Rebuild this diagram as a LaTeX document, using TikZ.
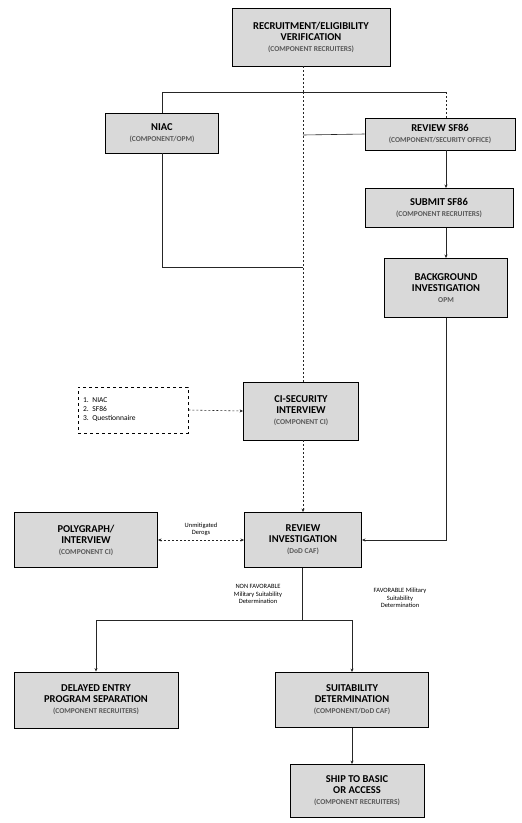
\documentclass[tikz,border=0pt]{standalone}
\usepackage{fontspec}
\setmainfont{Carlito}
\usetikzlibrary{arrows.meta}
\newcommand{\subt}[1]{{\fontsize{7.5}{8.5}\selectfont\color{black!65}#1}}
\tikzset{
  box/.style={draw=black, line width=0.9pt, fill=gray!30, align=center, inner sep=1pt,
    font=\fontsize{10.5}{11}\selectfont\bfseries},
  conn/.style={line width=0.6pt, draw=black!85},
  dconn/.style={conn, dashed, dash pattern=on 2pt off 2pt},
  arr/.style={-{Stealth[length=3.5pt,width=3pt]}},
  lbl/.style={font=\fontsize{6.5}{7.5}\selectfont, align=center, inner sep=0pt}
}
\begin{document}
\begin{tikzpicture}[x=1pt,y=-1pt]
\useasboundingbox (0,0) rectangle (522,823);
% boxes
\node[box, minimum width=158pt, minimum height=58pt] (rec) at (311,37)
  {RECRUITMENT/ELIGIBILITY\\VERIFICATION\\\subt{(COMPONENT RECRUITERS)}};
\node[box, minimum width=113pt, minimum height=40pt] (niac) at (162,133)
  {NIAC\\\subt{(COMPONENT/OPM)}};
\node[box, minimum width=150pt, minimum height=32pt] (rsf) at (440,134)
  {REVIEW SF86\\\subt{(COMPONENT/SECURITY OFFICE)}};
\node[box, minimum width=148pt, minimum height=39pt] (subm) at (439,208)
  {SUBMIT SF86\\\subt{(COMPONENT RECRUITERS)}};
\node[box, minimum width=123pt, minimum height=59pt] (bi) at (446,288)
  {BACKGROUND\\INVESTIGATION\\\subt{OPM}};
\node[box, minimum width=115pt, minimum height=58pt] (ci) at (301,411)
  {CI-SECURITY\\INTERVIEW\\\subt{(COMPONENT CI)}};
\node[draw=black, dashed, line width=0.8pt, minimum width=110pt, minimum height=46pt,
  align=left, font=\fontsize{7.5}{9}\selectfont, text width=100pt] (list) at (133,410)
  {1. NIAC\\2. SF86\\3. Questionnaire};
\node[box, minimum width=117pt, minimum height=55pt] (ri) at (303,540)
  {REVIEW\\INVESTIGATION\\\subt{(DoD CAF)}};
\node[box, minimum width=143pt, minimum height=55pt] (poly) at (86,540)
  {POLYGRAPH/\\INTERVIEW\\\subt{(COMPONENT CI)}};
\node[box, minimum width=164pt, minimum height=56pt] (dep) at (96,700)
  {DELAYED ENTRY\\PROGRAM SEPARATION\\\subt{(COMPONENT RECRUITERS)}};
\node[box, minimum width=153pt, minimum height=55pt] (suit) at (352,700)
  {SUITABILITY\\DETERMINATION\\\subt{(COMPONENT/DoD CAF)}};
\node[box, minimum width=134pt, minimum height=53pt] (ship) at (357,791)
  {SHIP TO BASIC\\OR ACCESS\\\subt{(COMPONENT RECRUITERS)}};
% coordinates
\coordinate (topsplit) at (303,92);
\coordinate (rightsplit) at (446,92);
\coordinate (niacjoin) at (303,267);
\coordinate (sfjoin) at (303,135);
\coordinate (bottomsplit) at (302,620);
\coordinate (rx) at (446,0);
\coordinate (sx) at (352,0);
% connectors from top
\draw[dconn] (rec.south -| topsplit) -- (topsplit);
\draw[dconn] (topsplit) -- (niacjoin) -- (ci.north -| niacjoin);
\draw[conn] (topsplit -| niac.north) -- (rightsplit);
\draw[conn] (topsplit -| niac.north) -- (niac.north);
\draw[dconn] (rightsplit) -- (rsf.north -| rx);
\draw[conn] (niac.south) |- (niacjoin);
\draw[conn] (sfjoin) -- (rsf.west);
\draw[conn, arr] (rsf.south -| rx) -- (subm.north -| rx);
\draw[conn, arr] (subm.south -| rx) -- (bi.north -| rx);
\draw[conn, arr] (bi.south -| rx) |- (ri.east);
\draw[dconn, arr] (list.east) -- (ci.west);
\draw[dconn, arr] (ci.south -| ri.north) -- (ri.north);
\draw[dconn, {Stealth[length=3.5pt,width=3pt]}-{Stealth[length=3.5pt,width=3pt]}] (poly.east) -- node[lbl, above=4pt] {Unmitigated\\Derogs} (ri.west);
\draw[conn] (ri.south -| bottomsplit) -- (bottomsplit);
\draw[conn, arr] (bottomsplit) -| (dep.north);
\draw[conn, arr] (bottomsplit) -| (suit.north -| sx);
\draw[conn, arr] (suit.south -| sx) -- (ship.north -| sx);
% labels
\node[lbl] (nfav) at (258,594) {NON FAVORABLE\\Military Suitability\\Determination};
\node[lbl] (fav) at (400,598) {FAVORABLE Military\\Suitability\\Determination};
\end{tikzpicture}
\end{document}
